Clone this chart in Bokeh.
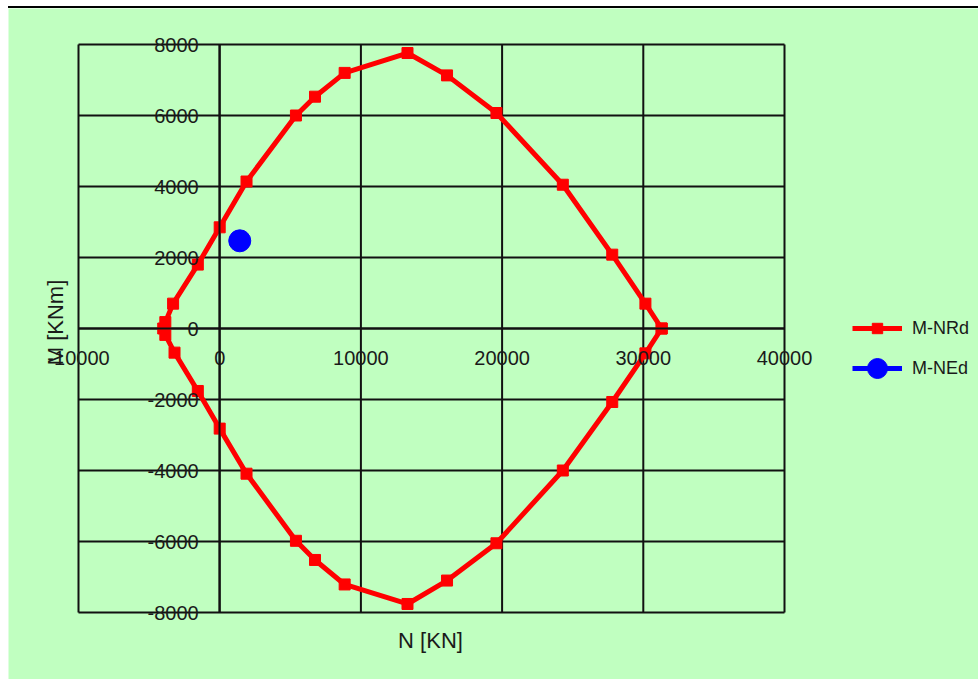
import math
from bokeh.plotting import figure
from bokeh.models import Legend, LegendItem, Label, FixedTicker, ColumnDataSource
from bokeh.embed import file_html
from bokeh.resources import INLINE

# ---- data ----
N_rd = [31300, 30150, 27800, 24300, 19600, 16100, 13300, 8850, 6750, 5400,
        1900, 0, -1550, -3300, -3850, -4000, -3850, -3200, -1550, 0,
        1900, 5400, 6750, 8850, 13300, 16100, 19600, 24300, 27800, 30150, 31300]
M_rd = [0, 700, 2080, 4050, 6070, 7130, 7760, 7200, 6530, 6000,
        4140, 2850, 1800, 700, 180, 0, -180, -680, -1760, -2820,
        -4090, -5980, -6520, -7210, -7760, -7100, -6050, -4000, -2070, -700, 0]
N_ed = [1420]
M_ed = [2470]

x_ticks = [-10000, 0, 10000, 20000, 30000, 40000]
y_ticks = [-8000, -6000, -4000, -2000, 0, 2000, 4000, 6000, 8000]
series_names = ["M-NRd", "M-NEd"]
x_title = "N [KN]"
y_title = "M [KNm]"

BG = "#C0FFC0"
FONT = "Liberation Sans"
TXT = "#1a1a1a"
GRID = "#111111"

# plot area: x -10000..40000 spans 706 px, y -8000..8000 spans 568 px
W, H = 970, 673
xs = 50000 / 706.0
ys = 16000 / 568.0
x_lo = -10000 - 70 * xs
x_hi = 40000 + (W - 70 - 706) * xs
y_hi = 8000 + 36 * ys
y_lo = -8000 - (H - 36 - 568) * ys

p = figure(width=W, height=H, output_backend="svg", toolbar_location=None,
           x_range=(x_lo, x_hi), y_range=(y_lo, y_hi),
           min_border=0, min_border_left=0, min_border_right=0,
           min_border_top=0, min_border_bottom=0,
           background_fill_color=BG, border_fill_color=BG)
p.styles = {"margin-left": "8px", "margin-top": "6px",
            "border-top": "2px solid black"}
p.outline_line_color = None
p.xgrid.visible = False
p.ygrid.visible = False

# grid / plot-area box from tick lists
p.segment(x0=x_ticks, y0=[y_ticks[0]] * len(x_ticks), x1=x_ticks,
          y1=[y_ticks[-1]] * len(x_ticks), line_color=GRID, line_width=2)
p.segment(x0=[x_ticks[0]] * len(y_ticks), y0=y_ticks,
          x1=[x_ticks[-1]] * len(y_ticks), y1=y_ticks,
          line_color=GRID, line_width=2)

for ax, ticks in ((p.xaxis, x_ticks), (p.yaxis, y_ticks)):
    ax.fixed_location = 0
    ax.bounds = (ticks[0], ticks[-1])
    ax.ticker = FixedTicker(ticks=ticks)
    ax.major_label_overrides = {t: str(t) for t in ticks}
    ax.major_tick_line_color = None
    ax.minor_tick_line_color = None
    ax.axis_line_color = GRID
    ax.axis_line_width = 2
    ax.major_label_text_font = FONT
    ax.major_label_text_font_size = "20px"
    ax.major_label_text_color = TXT
    ax.axis_label = None

p.xaxis.major_label_standoff = 16
p.yaxis.major_label_standoff = 15

src_rd = ColumnDataSource(dict(x=N_rd, y=M_rd))
src_ed = ColumnDataSource(dict(x=N_ed, y=M_ed))

r1 = p.line("x", "y", source=src_rd, line_color="#FF0000", line_width=5)
r2 = p.scatter("x", "y", source=src_rd, marker="square", size=11,
               fill_color="#FF0000", line_color="#FF0000")
r3 = p.line("x", "y", source=src_ed, line_color="#0000FF", line_width=5)
r4 = p.scatter("x", "y", source=src_ed, marker="circle", size=22,
               fill_color="#0000FF", line_color="#0000FF")


def make_legend(item, gh, y_bottom):
    lg = Legend(items=[item], location=(844, y_bottom))
    lg.background_fill_alpha = 0
    lg.border_line_color = None
    lg.label_text_font = FONT
    lg.label_text_font_size = "18px"
    lg.label_text_color = TXT
    lg.glyph_width = 50
    lg.glyph_height = gh
    lg.padding = 0
    lg.margin = 0
    lg.label_standoff = 10
    return lg


p.add_layout(make_legend(LegendItem(label=series_names[0], renderers=[r1, r2]),
                         26, 681 - 341))
p.add_layout(make_legend(LegendItem(label=series_names[1], renderers=[r3, r4]),
                         52, 681 - 394))

p.add_layout(Label(x=422, y=681 - 640, x_units="screen", y_units="screen",
                   text=x_title, text_align="center", text_baseline="middle",
                   text_font=FONT, text_font_size="22px", text_color=TXT))
p.add_layout(Label(x=47, y=681 - 322, x_units="screen", y_units="screen",
                   text=y_title, angle=math.pi / 2, text_align="center",
                   text_baseline="middle",
                   text_font=FONT, text_font_size="22px", text_color=TXT))

open("out.html", "w").write(file_html(p, INLINE))
